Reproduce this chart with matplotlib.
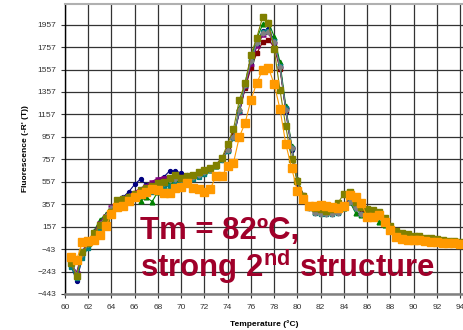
import numpy as np
import matplotlib
matplotlib.use('Agg')
import matplotlib.pyplot as plt

plt.rcParams['font.family'] = ['Liberation Sans', 'DejaVu Sans']
plt.rcParams['mathtext.fontset'] = 'custom'
plt.rcParams['mathtext.rm'] = 'Liberation Sans'
plt.rcParams['mathtext.bf'] = 'Liberation Sans:bold'

# melt curve, -dR/dT, one reading every 0.5 C
temps = np.arange(60.5, 94.01, 0.5)

navy = [-180, -330, -110, -10, 90, 190, 250, 310, 380, 420,
        470, 534, 582, 528, 540, 560, 600, 653, 650, 638,
        620, 620, 630, 650, 670, 700, 750, 830, 960, 1180,
        1400, 1610, 1780, 1900, 1916, 1820, 1600, 1180, 840, 549,
        430, 350, 310, 300, 295, 290, 300, 350, 410, 340,
        290, 280, 275, 250, 200, 150, 100, 75, 65, 60,
        55, 50, 45, 35, 30, 25, 20, 15]
darkred = [-160, -260, -90, 10, 90, 170, 240, 300, 370, 400,
           430, 460, 480, 500, 520, 560, 580, 590, 600, 600,
           605, 615, 630, 645, 670, 710, 770, 850, 970, 1180,
           1390, 1570, 1700, 1800, 1820, 1760, 1560, 1200, 860, 570,
           440, 350, 310, 300, 295, 295, 300, 340, 400, 350,
           290, 275, 270, 250, 200, 150, 95, 75, 65, 60,
           55, 50, 45, 35, 30, 25, 20, 15]
green = [-140, -270, -80, 20, 120, 216, 270, 320, 380, 390,
         400, 410, 389, 420, 380, 470, 520, 560, 580, 590,
         600, 610, 625, 640, 660, 700, 760, 840, 960, 1210,
         1440, 1660, 1830, 1960, 1984, 1850, 1620, 1230, 880, 580,
         440, 340, 290, 280, 280, 285, 290, 320, 380, 281,
         260, 250, 240, 201, 170, 120, 85, 70, 60, 55,
         50, 45, 40, 30, 25, 20, 15, 10]
purple = [-170, -250, -60, 30, 110, 200, 260, 340, 390, 420,
          440, 470, 500, 530, 560, 590, 600, 610, 610, 610,
          610, 620, 630, 650, 670, 710, 760, 840, 950, 1170,
          1400, 1600, 1760, 1860, 1880, 1790, 1580, 1210, 860, 570,
          430, 340, 300, 290, 285, 285, 290, 330, 390, 330,
          270, 260, 260, 240, 190, 140, 90, 70, 60, 55,
          50, 45, 40, 30, 25, 20, 15, 10]
teal = [-200, -300, -120, -30, 50, 130, 210, 280, 340, 370,
        390, 410, 430, 450, 470, 490, 510, 520, 540, 550,
        560, 580, 600, 630, 660, 700, 750, 830, 950, 1190,
        1420, 1640, 1800, 1895, 1900, 1810, 1590, 1210, 860, 560,
        420, 320, 280, 270, 270, 270, 280, 320, 380, 320,
        270, 255, 255, 240, 195, 145, 95, 70, 60, 55,
        50, 45, 40, 30, 25, 20, 15, 10]
gray = [-150, -270, -90, 0, 90, 180, 250, 320, 390, 410,
        430, 450, 470, 490, 510, 530, 550, 570, 580, 580,
        590, 600, 620, 640, 660, 700, 760, 840, 960, 1200,
        1420, 1630, 1790, 1880, 1890, 1800, 1580, 1200, 860, 560,
        420, 320, 280, 270, 270, 270, 280, 320, 380, 320,
        270, 260, 265, 250, 205, 160, 100, 75, 65, 60,
        55, 50, 45, 35, 30, 25, 20, 15]
olive = [-170, -283, -66, 9, 98, 172, 230, 290, 395, 400,
         420, 450, 480, 500, 520, 543, 558, 590, 617, 593,
         605, 617, 640, 662, 680, 707, 769, 894, 1027, 1286,
         1435, 1687, 1841, 2023, 1970, 1740, 1375, 1050, 760, 560,
         430, 340, 320, 310, 300, 310, 370, 450, 470, 380,
         330, 310, 305, 290, 230, 160, 120, 103, 90, 77,
         70, 60, 55, 45, 35, 30, 25, 20]
orange = [-110, -140, 20, 30, 40, 80, 160, 270, 330, 340,
          390, 420, 445, 470, 490, 480, 460, 455, 500, 513,
          546, 502, 493, 465, 493, 608, 608, 697, 727, 956,
          1081, 1286, 1437, 1553, 1574, 1428, 1206, 894, 680, 477,
          401, 341, 345, 350, 345, 330, 320, 340, 439, 424,
          365, 246, 246, 261, 201, 127, 67, 44, 40, 38,
          35, 30, 23, 20, 14, 12, 9, 5]

yticks = np.arange(-443, 1958, 200)
xticks = np.arange(60, 95, 2)

W, H = 463, 330
fig = plt.figure(figsize=(W / 100, H / 100), dpi=100)
ax = fig.add_axes([65 / W, 1 - 294 / H, (W - 65) / W, (294 - 4) / H])

runs = [
    (navy, '#000080', 'o', 2.8, {}),
    (darkred, '#800000', 's', 3.2, {}),
    (green, '#008000', '^', 3.4, {}),
    (purple, '#800080', '_', 4.2, {'markeredgewidth': 1.8}),
    (teal, '#008080', 's', 2.2, {}),
    (gray, '#808080', 'D', 2.6, {}),
    (olive, '#808000', 's', 5.0, {}),
    (orange, '#FF9900', 's', 5.3, {}),
]
for vals, col, mk, ms, extra in runs:
    ax.plot(temps, vals, color=col, lw=0.8, marker=mk, ms=ms,
            mfc=col, mec=col, **extra)

ax.set_xlim(60, 94.25)
ax.set_ylim(-443, 2141)
ax.set_xticks(xticks)
ax.set_yticks(yticks)
ax.grid(True, color='#333333', lw=0.9)
ax.set_axisbelow(True)
ax.tick_params(labelsize=6, length=3, width=0.8, color='#333333',
               labelcolor='#333333')
ax.tick_params(axis='x', pad=4)
ax.tick_params(axis='y', pad=3.5)

ax.spines['right'].set_visible(False)
ax.spines['top'].set_color('#b0b0b0')
ax.spines['top'].set_linewidth(1.5)
ax.spines['left'].set_color('black')
ax.spines['left'].set_linewidth(1.0)
ax.spines['bottom'].set_color('#808080')
ax.spines['bottom'].set_linewidth(1.8)

ax.set_xlabel('Temperature (°C)', fontsize=6, fontweight='bold')
ax.set_ylabel("Fluorescence (-R' (T))", fontsize=6, fontweight='bold')
ax.xaxis.set_label_coords(0.5, -0.09)
ax.yaxis.set_label_coords(-0.09, 0.5)

red = '#A0002A'
fig.text(140 / W, 1 - 239 / H, 'Tm = 82ºC,', color=red, fontsize=22.4,
         fontweight='bold', va='baseline', ha='left')
fig.text(140 / W, 1 - 277 / H, r'strong 2$^{\mathbf{nd}}$ structure',
         color=red, fontsize=22.4, fontweight='bold', va='baseline',
         ha='left')

fig.savefig('out.png', dpi=100)
